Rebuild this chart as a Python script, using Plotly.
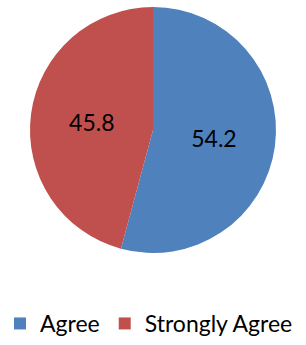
import plotly.graph_objects as go

labels = ["Agree", "Strongly Agree"]
values = [54.2, 45.8]
colors = ["#4F81BD", "#C0504D"]

fig = go.Figure(go.Pie(
    labels=labels,
    values=values,
    marker=dict(colors=colors, line=dict(width=0)),
    sort=False,
    direction="clockwise",
    rotation=0,
    texttemplate="%{value}",
    textposition="inside",
    insidetextorientation="horizontal",
    textfont=dict(size=23, color="black", family="Lato"),
    domain=dict(x=[0, 1], y=[0.2667, 0.9797]),
    hoverinfo="label+value",
))

fig.update_layout(
    width=306, height=345,
    margin=dict(l=0, r=0, t=0, b=0, autoexpand=False),
    paper_bgcolor="white",
    font=dict(family="Lato", size=23, color="black"),
    legend=dict(orientation="h", x=0.0, xanchor="left", y=0.0, yanchor="bottom",
                font=dict(size=23, family="Lato", color="black"),
                itemwidth=30, traceorder="normal", tracegroupgap=0),
    showlegend=True,
)

fig.write_html("out.html", config={"displayModeBar": False},
               post_script="document.body.style.margin='0';")
